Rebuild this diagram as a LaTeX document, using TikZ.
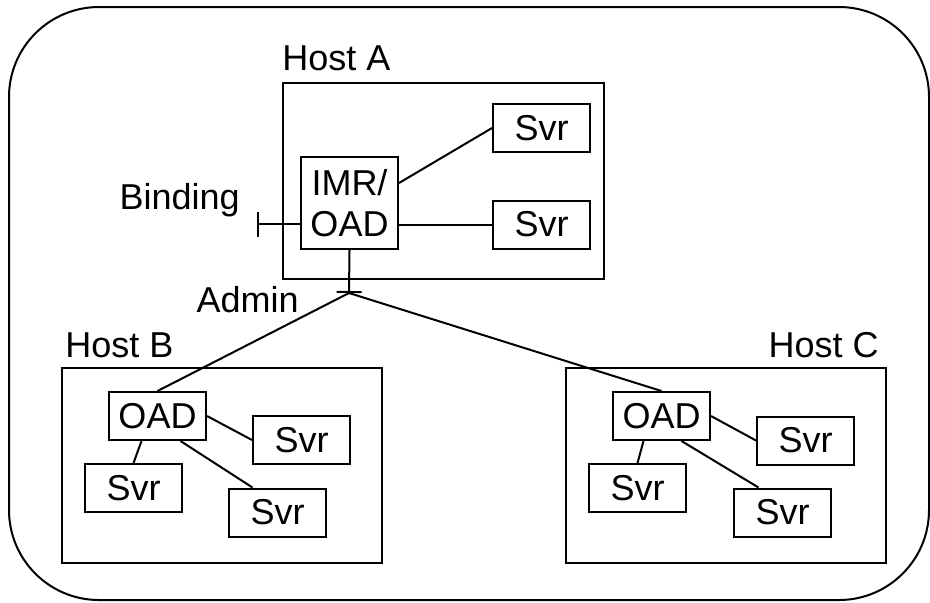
\documentclass[tikz,border=0pt]{standalone}
\usepackage{fontspec}
\setmainfont{Liberation Sans}
\usetikzlibrary{arrows.meta,positioning}

\begin{document}
\begin{tikzpicture}[x=0.5pt, y=-0.5pt,
  every node/.style={font=\fontsize{18}{20.5}\selectfont},
  host/.style={draw, line width=1pt, minimum width=160pt,
               minimum height=97.5pt, inner sep=0pt},
  proc/.style={draw, line width=1pt, minimum width=48.5pt,
               minimum height=24pt, inner sep=0pt, align=center},
  svr/.style={proc},
  lbl/.style={inner sep=0pt},
  link/.style={line width=1pt},
  tick/.style={link, -{Bar[width=12.5pt, line width=1pt]}}
]
  \useasboundingbox (0,0) rectangle (930,602);
  % Outer domain
  \node[draw, line width=1pt, rounded corners=45pt, minimum width=460pt,
        minimum height=296.5pt, inner sep=0pt] (dom) at (469,303.5) {};
  % Host A
  \node[host, minimum width=160.5pt, minimum height=98pt] (hA) at (443.5,181) {};
  \node[lbl, anchor=base west] (hAl) at ([yshift=6pt]hA.north west) {Host A};
  \node[proc, minimum height=46pt] (imr) at (349.5,203) {IMR/\\OAD};
  \node[svr] (sA1) at (541.5,128) {Svr};
  \node[svr] (sA2) at (541.5,224.5) {Svr};
  \coordinate (bind) at (257,224);
  \coordinate (admin) at (349,293);
  \node[lbl, anchor=base east] (bindl) at (240,209) {Binding};
  \node[lbl, anchor=base east] (adminl) at (299,312) {Admin};
  % Host B
  \node[host] (hB) at (222,465.5) {};
  \node[lbl, anchor=base west] (hBl) at ([xshift=2pt,yshift=5pt]hB.north west) {Host B};
  \node[proc] (oB) at (157.5,416) {OAD};
  \node[svr] (sB1) at (301.5,440) {Svr};
  \node[svr] (sB2) at (133.5,488) {Svr};
  \node[svr] (sB3) at (277.5,512.5) {Svr};
  % Host C
  \node[host] (hC) at (726,465.5) {};
  \node[lbl, anchor=base east] (hCl) at ([xshift=-4pt,yshift=5pt]hC.north east) {Host C};
  \node[proc] (oC) at (661.5,416) {OAD};
  \node[svr] (sC1) at (805.5,440.5) {Svr};
  \node[svr] (sC2) at (637.5,488) {Svr};
  \node[svr] (sC3) at (782.5,512.5) {Svr};
  % Links
  \draw[link] ([yshift=10pt]imr.east) -- (sA1.west);
  \draw[link] (imr.east |- sA2.west) -- (sA2.west);
  \draw[tick] (imr.west |- bind) -- (bind);
  \draw[tick] (imr.south) -- (admin);
  \draw[link] (admin) -- (oB.north);
  \draw[link] (admin) -- (oC.north);
  \draw[link] (oB.east) -- (sB1.west);
  \draw[link] ([xshift=-8pt]oB.south) -- (sB2.north);
  \draw[link] ([xshift=11.5pt]oB.south) -- ([xshift=-12.5pt]sB3.north);
  \draw[link] (oC.east) -- (sC1.west);
  \draw[link] ([xshift=-9pt]oC.south) -- (sC2.north);
  \draw[link] ([xshift=10pt]oC.south) -- ([xshift=-12pt]sC3.north);
\end{tikzpicture}
\end{document}
